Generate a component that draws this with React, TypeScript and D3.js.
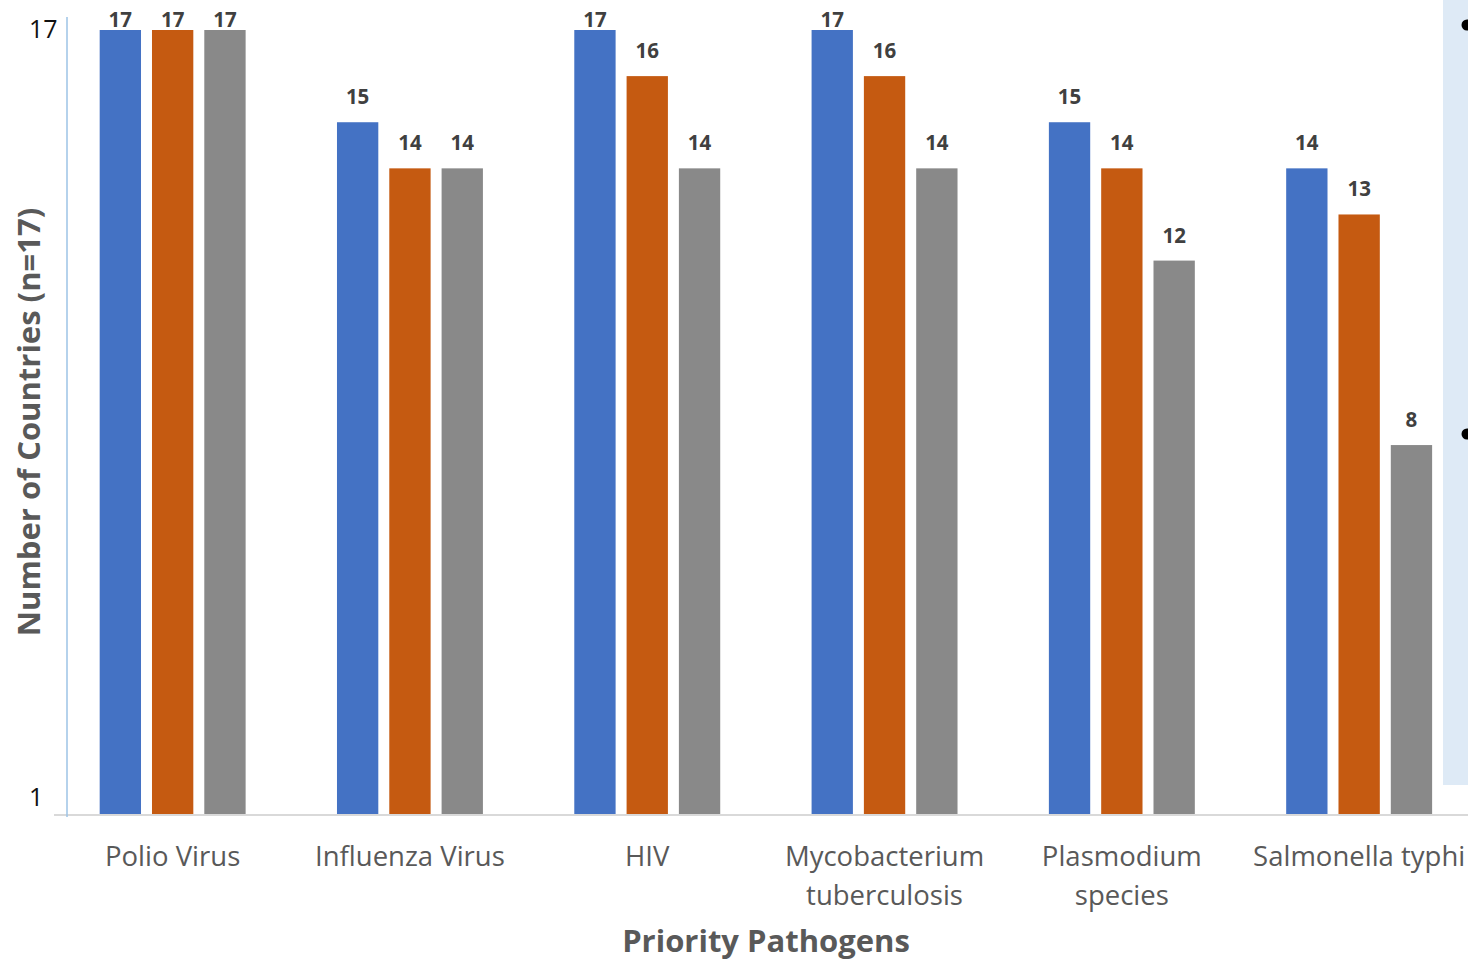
import React from "react";
import * as d3 from "d3";

const categories: string[][] = [
  ["Polio Virus"],
  ["Influenza Virus"],
  ["HIV"],
  ["Mycobacterium", "tuberculosis"],
  ["Plasmodium", "species"],
  ["Salmonella typhi"],
];
const seriesNames = ["Series 1", "Series 2", "Series 3"];
const series1 = [17, 15, 17, 17, 15, 14];
const series2 = [17, 14, 16, 16, 14, 13];
const series3 = [17, 14, 14, 14, 12, 8];
const seriesColors = ["#4472C4", "#C55A11", "#898989"];
const yTickLabels = ["17", "1"];

const W = 1468;
const H = 962;
const FONT = "'Open Sans', 'Noto Sans', sans-serif";

export default function App() {
  const allSeries = [series1, series2, series3];
  const catKeys = categories.map((c) => c.join(" "));

  const x0 = d3
    .scaleBand<string>()
    .domain(catKeys)
    .range([54, 1477.8])
    .paddingInner(0.385)
    .paddingOuter(0.1925);
  const x1 = d3
    .scaleBand<string>()
    .domain(seriesNames)
    .range([0, x0.bandwidth()])
    .paddingInner(0.21)
    .paddingOuter(0);
  const y = d3.scaleLinear().domain([0, 17]).range([814, 30]);

  return (
    <svg
      width={W}
      height={H}
      style={{ position: "absolute", left: 0, top: 0, display: "block", background: "#fff" }}
      fontFamily={FONT}
    >
      {/* right side panel (cropped text box) */}
      <rect x={1443} y={0} width={40} height={785} fill="#DEEAF6" />
      <circle cx={1467} cy={25} r={5.5} fill="#000" />
      <circle cx={1467} cy={434} r={5.5} fill="#000" />

      {/* bars */}
      {catKeys.map((cat, ci) => (
        <g key={cat} transform={`translate(${x0(cat)},0)`}>
          {allSeries.map((s, si) => {
            const v = s[ci];
            const bx = x1(seriesNames[si])!;
            const top = y(v);
            return (
              <g key={si}>
                <rect
                  x={bx}
                  y={top}
                  width={x1.bandwidth()}
                  height={y(0) - top}
                  fill={seriesColors[si]}
                />
                <text
                  x={bx + x1.bandwidth() / 2}
                  y={Math.max(top - 18, 27)}
                  textAnchor="middle"
                  fontSize={20.5}
                  fontWeight="bold"
                  fill="#404040"
                >
                  {v}
                </text>
              </g>
            );
          })}
        </g>
      ))}

      {/* axes */}
      <line x1={54} x2={W} y1={815} y2={815} stroke="#D9D9D9" strokeWidth={2} />
      <line x1={67} x2={67} y1={17} y2={817} stroke="#9DC3E6" strokeWidth={1.5} />

      {/* y tick labels */}
      <text x={29} y={38} fontSize={25} fill="#111">
        {yTickLabels[0]}
      </text>
      <text x={29} y={806} fontSize={25} fill="#111">
        {yTickLabels[1]}
      </text>

      {/* category labels */}
      {categories.map((lines, ci) => {
        const cx = x0(catKeys[ci])! + x0.bandwidth() / 2;
        return (
          <text key={ci} textAnchor="middle" fontSize={27.5} fill="#595959">
            {lines.map((ln, li) => (
              <tspan key={li} x={cx} y={866 + li * 39}>
                {ln}
              </tspan>
            ))}
          </text>
        );
      })}

      {/* axis titles */}
      <text x={766} y={952} textAnchor="middle" fontSize={31} fontWeight="bold" fill="#595959">
        Priority Pathogens
      </text>
      <text
        transform="translate(40,422) rotate(-90)"
        textAnchor="middle"
        fontSize={31}
        fontWeight="bold"
        fill="#595959"
      >
        Number of Countries (n=17)
      </text>
    </svg>
  );
}
